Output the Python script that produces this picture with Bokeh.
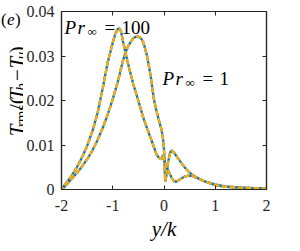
from math import pi
from bokeh.plotting import figure
from bokeh.layouts import row
from bokeh.models import LinearAxis, Label, FixedTicker, Range1d
from bokeh.embed import file_html
from bokeh.resources import INLINE

# ---- data ----
x_pr100 = [-2.00, -1.95, -1.90, -1.80, -1.70, -1.60, -1.50, -1.40, -1.30, -1.20,
           -1.10, -1.00, -0.95, -0.90, -0.87, -0.84, -0.80, -0.75, -0.70, -0.60,
           -0.50, -0.40, -0.30, -0.21, -0.15, -0.10, -0.05, -0.02, 0.00, 0.02,
           0.05, 0.10, 0.15, 0.20, 0.25, 0.30, 0.40, 0.48, 0.55, 0.65,
           0.80, 1.00, 1.20, 1.50, 2.00]
t_pr100 = [0.0000, 0.0008, 0.0016, 0.0031, 0.0050, 0.0072, 0.0098, 0.0130, 0.0170, 0.0225,
           0.0285, 0.0330, 0.0350, 0.0361, 0.0362, 0.0356, 0.0333, 0.0307, 0.0282, 0.0237,
           0.0199, 0.0160, 0.0128, 0.0100, 0.0080, 0.0071, 0.0068, 0.0078, 0.0072, 0.0060,
           0.0050, 0.0038, 0.0026, 0.0018, 0.0018, 0.0022, 0.0029, 0.0031, 0.0030, 0.0026,
           0.0018, 0.0010, 0.0006, 0.0004, 0.0002]

x_pr1 = [-2.00, -1.95, -1.90, -1.80, -1.70, -1.60, -1.50, -1.40, -1.30, -1.20,
         -1.10, -1.00, -0.90, -0.80, -0.75, -0.70, -0.60, -0.52, -0.45, -0.40,
         -0.33, -0.26, -0.20, -0.15, -0.10, -0.05, -0.02, 0.00, 0.015, 0.025,
         0.05, 0.08, 0.12, 0.15, 0.20, 0.30, 0.40, 0.50, 0.63, 0.80,
         1.00, 1.20, 1.50, 2.00]
t_pr1 = [0.0000, 0.0005, 0.0011, 0.0024, 0.0037, 0.0052, 0.0068, 0.0087, 0.0110, 0.0137,
         0.0168, 0.0203, 0.0243, 0.0290, 0.0308, 0.0322, 0.0340, 0.0345, 0.0340, 0.0330,
         0.0300, 0.0255, 0.0205, 0.0178, 0.0155, 0.0135, 0.0115, 0.0090, 0.0045, 0.0017,
         0.0035, 0.0062, 0.0083, 0.0088, 0.0082, 0.0066, 0.0050, 0.0038, 0.0027, 0.0018,
         0.0011, 0.0007, 0.0004, 0.0002]

x_ticks = [-2, -1, 0, 1, 2]
x_tick_labels = ["-2", "-1", "0", "1", "2"]
y_ticks = [0, 0.01, 0.02, 0.03, 0.04]
y_tick_labels = ["0", "0.01", "0.02", "0.03", "0.04"]

FONT = "Liberation Serif"
AX = "#262626"

# ---- main plot ----
p = figure(frame_width=205, frame_height=178,
           x_range=Range1d(-2, 2), y_range=Range1d(0, 0.04),
           output_backend="svg", toolbar_location=None,
           min_border_left=35, min_border_right=29,
           min_border_top=11, min_border_bottom=54,
           x_axis_location=None, y_axis_location=None)
p.xgrid.visible = False
p.ygrid.visible = False
p.outline_line_color = AX
p.outline_line_width = 1.2


def make_axis(ticks, labels, show):
    ax = LinearAxis(ticker=FixedTicker(ticks=ticks))
    ax.major_label_overrides = {t: l for t, l in zip(ticks, labels)}
    ax.major_tick_in = 4
    ax.major_tick_out = 0
    ax.minor_tick_line_color = None
    ax.axis_line_color = AX
    ax.axis_line_width = 1.2
    ax.major_tick_line_color = AX
    ax.major_tick_line_width = 1
    ax.major_label_text_font = FONT
    ax.major_label_text_color = AX
    if show:
        ax.major_label_text_font_size = "16px"
    else:
        ax.major_label_text_font_size = "0px"
        ax.major_label_standoff = 0
    return ax


bx = make_axis(x_ticks, x_tick_labels, True)
bx.major_label_standoff = 10
bx.axis_label = "y/k"
bx.axis_label_text_font = FONT
bx.axis_label_text_font_style = "italic"
bx.axis_label_text_font_size = "21px"
bx.axis_label_text_color = "black"
bx.axis_label_standoff = 3
ly = make_axis(y_ticks, y_tick_labels, True)
ly.major_label_standoff = 7
p.add_layout(bx, "below")
p.add_layout(ly, "left")
p.add_layout(make_axis(x_ticks, x_tick_labels, False), "above")
p.add_layout(make_axis(y_ticks, y_tick_labels, False), "right")

for xs, ys in [(x_pr1, t_pr1), (x_pr100, t_pr100)]:
    p.line(xs, ys, line_color="#0072BD", line_width=2.3)
    p.line(xs, ys, line_color="#D95319", line_width=2.3, line_dash="2 6")
    p.line(xs, ys, line_color="#EDB120", line_width=2.3, line_dash="6 2", line_dash_offset=3)


def piece(fig, x, y, text, size, style="normal", dx=0, dy=0, angle=0, baseline="alphabetic"):
    fig.add_layout(Label(x=x, y=y, text=text, x_offset=dx, y_offset=dy, angle=angle,
                         text_font=FONT, text_font_size=f"{size}px",
                         text_font_style=style, text_color="black",
                         text_align="left", text_baseline=baseline))


# Pr labels inside the frame
for (lx, ly_, num) in [(-1.94, 0.0365, "100"), (-0.03, 0.0249, "1")]:
    piece(p, lx, ly_, "P", 19, "italic", 0)
    piece(p, lx, ly_, "r", 19, "italic", 13)
    piece(p, lx, ly_, "\u221e", 13, "normal", 23, -4)
    piece(p, lx, ly_, "=", 19, "normal", 40)
    piece(p, lx, ly_, num, 19, "normal", 57)

# ---- left strip holding the y label and the panel tag ----
LW, LH = 23, 243
q = figure(width=LW, height=LH, x_range=Range1d(0, LW), y_range=Range1d(0, LH),
           output_backend="svg", toolbar_location=None,
           min_border=0, x_axis_location=None, y_axis_location=None)
q.xgrid.visible = False
q.ygrid.visible = False
q.outline_line_color = None

# panel tag (e)
piece(q, 0.5, 232, "(", 17, "normal", baseline="middle")
piece(q, 6.5, 232, "e", 17, "italic", baseline="middle")
piece(q, 14.5, 232, ")", 17, "normal", baseline="middle")

# y label  T_rms/(T_b - T_u), rotated
S, s = 21, 15
parts = [("T", S, "italic", 0, 0.60 * S),
         ("rms", s, "normal", 4, 1.55 * s),
         ("/(", S, "normal", 0, 0.65 * S),
         ("T", S, "italic", 0, 0.60 * S),
         ("b", s, "italic", 4, 0.55 * s + 0.25 * S),
         ("\u2212", S, "normal", 0, 0.564 * S + 0.25 * S),
         ("T", S, "italic", 0, 0.60 * S),
         ("u", s, "italic", 4, 0.55 * s),
         (")", S, "normal", 0, 0.35 * S)]
total = sum(a[4] for a in parts)
pos = 133 - total / 2
for txt, sz, st, sh, adv in parts:
    piece(q, 16 + sh, pos, txt, sz, st, angle=pi / 2)
    pos += adv

layout = row(q, p)
open("out.html", "w").write(file_html(layout, INLINE))
